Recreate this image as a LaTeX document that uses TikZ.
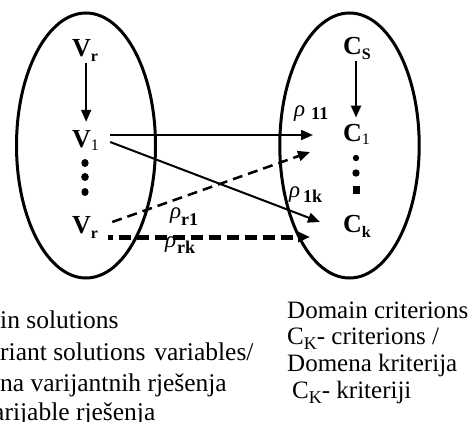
\documentclass[tikz,border=0pt]{standalone}
\usepackage{fontspec}
\setmainfont{Liberation Serif}
\usetikzlibrary{arrows.meta}

\newcommand\lsub[1]{\raisebox{-5pt}{\fontsize{16}{16}\selectfont\bfseries #1}}
\newcommand\nsub[1]{\raisebox{-3pt}{\fontsize{16}{16}\selectfont\mdseries #1}}
\newcommand\rsub[2]{\raisebox{-#1}{\fontsize{18}{18}\selectfont\upshape\bfseries #2}}
\newcommand\Ksub{\raisebox{-5pt}{\fontsize{18}{18}\selectfont K}}

\begin{document}
\begin{tikzpicture}[x=1pt,y=1pt,
  lbl/.style={inner sep=0pt, anchor=base west},
  bignode/.style={lbl, font=\fontsize{26}{26}\selectfont\bfseries},
  rholbl/.style={lbl, font=\fontsize{23}{23}\selectfont\itshape},
  txt/.style={lbl, font=\fontsize{25.5}{25.5}\selectfont},
  txtr/.style={lbl, font=\fontsize{25}{25}\selectfont},
  dom/.style={line width=3pt},
  tip/.style={-{Triangle[length=12pt,width=10pt]}},
  arr/.style={line width=2pt, tip},
  dsh/.style={line width=2.5pt, dash pattern=on 10pt off 6pt, tip},
  dshb/.style={line width=5pt, dash pattern=on 12pt off 6pt, dash phase=7pt, tip},
  dotb/.style={fill=black},
]
\useasboundingbox (0,0) rectangle (471,421);

% domains
\draw[dom] (86,275.5) ellipse [x radius=69.5, y radius=132.5];
\draw[dom] (349.5,275.5) ellipse [x radius=69.7, y radius=132.5];

% left nodes
\node[bignode] (Vtop) at (72,364) {V\lsub{r}};
\node[bignode] (V1) at (72,273) {V\nsub{1}};
\node[bignode] (Vr) at (72,188) {V\lsub{r}};

% right nodes
\node[bignode] (CS) at (343,366) {C\lsub{S}};
\node[bignode] (C1) at (343,279) {C\nsub{1}};
\node[bignode] (Ck) at (343,189) {C\lsub{k}};

% dots
\fill[dotb] (85,258) ellipse [x radius=3.6, y radius=4];
\fill[dotb] (85,244) ellipse [x radius=3.8, y radius=4];
\fill[dotb] (85,229) ellipse [x radius=3.6, y radius=4];
\fill[dotb] (356,263) circle [radius=3.2];
\fill[dotb] (356,248) circle [radius=3.7];
\fill[dotb] (352.5,227.5) rectangle (359.5,234.5);

% vertical arrows
\draw[arr, shorten <=1pt, shorten >=9pt] ([xshift=1pt]Vtop.south) -- ([xshift=1pt]Vtop.south |- V1.north);
\draw[arr, shorten <=1pt, shorten >=7pt] ([xshift=-1pt]CS.south) -- ([xshift=-1pt]CS.south |- C1.north);

% connectors
\draw[arr] ([shift={(11pt,13pt)}]V1.base east) -- ([shift={(-30pt,7pt)}]C1.base west);
\draw[arr] ([shift={(11pt,6pt)}]V1.base east) -- ([shift={(-23pt,10pt)}]Ck.base west);
\draw[dsh] ([shift={(14pt,11pt)}]Vr.base east) -- ([shift={(-33pt,-10pt)}]C1.base west);
\draw[dshb] ([shift={(10pt,-4pt)}]Vr.base east) -- ([shift={(-33pt,-5pt)}]Ck.base west);

% rho labels
\node[rholbl] (r11) at (294,304) {ρ\hspace{6pt}\rsub{3pt}{11}};
\node[rholbl] (r1k) at (289,223) {ρ\hspace{3pt}\rsub{5pt}{1k}};
\node[rholbl] (rr1) at (170,203) {ρ\rsub{7pt}{r1}};
\node[rholbl] (rrk) at (165,174) {ρ\hspace{1pt}\rsub{6pt}{rk}};

% bottom texts, left
\node[txt] (l1) at (0,93) {in solutions};
\node[txt] (l2) at (0,61) {riant solutions\hspace{9pt}variables/};
\node[txt] (l3) at (0,30) {na varijantnih rješenja};
\node[txt] (l4) at (-7,1) {arijable rješenja};

% bottom texts, right
\node[txtr] (r1) at (287,103) {Domain criterions};
\node[txtr] (r2) at (287,77) {C\Ksub- criterions /};
\node[txtr] (r3) at (287,50) {Domena kriterija};
\node[txtr] (r4) at (292,23) {C\Ksub- kriteriji};
\end{tikzpicture}
\end{document}
